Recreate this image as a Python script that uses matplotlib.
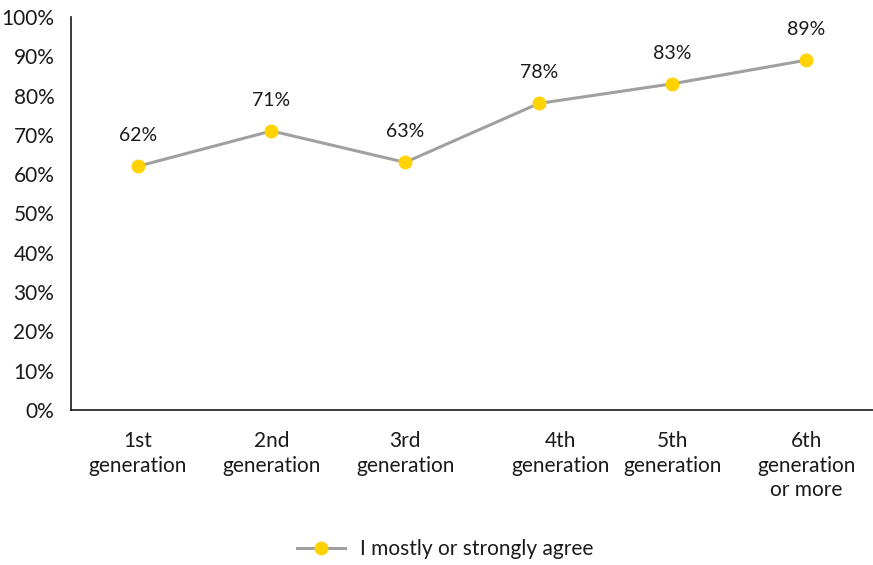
import matplotlib
matplotlib.use("Agg")
import matplotlib.pyplot as plt
import matplotlib.transforms as mtransforms

categories = ["1st\ngeneration", "2nd\ngeneration", "3rd\ngeneration",
              "4th\ngeneration", "5th\ngeneration", "6th\ngeneration\nor more"]
agree = [62, 71, 63, 78, 83, 89]
series_name = "I mostly or strongly agree"
yticks = [0, 10, 20, 30, 40, 50, 60, 70, 80, 90, 100]

plt.rcParams['font.family'] = ['Lato', 'DejaVu Sans']

fig = plt.figure(figsize=(8.73, 5.65), dpi=100)
ax = fig.add_axes([0.0813, 0.2743, 0.9187, 0.6957])

x = range(len(categories))
ax.plot(x, agree, color="#a0a0a0", lw=2.2, marker="o", markersize=9,
        markerfacecolor="#ffd200", markeredgecolor="#ffd200", label=series_name)

for xi, v in zip(x, agree):
    ax.annotate(f"{v}%", (xi, v), xytext=(0, 22), textcoords="offset points",
                ha="center", va="center", fontsize=14, color="#1a1a1a")

ax.set_xlim(-0.5, len(categories) - 0.5)
ax.set_ylim(0, 100)
ax.set_yticks(yticks)
ax.set_yticklabels([f"{t}%" for t in yticks], fontsize=15, color="#1a1a1a")
ax.set_xticks(list(x))
ax.set_xticklabels(categories, fontsize=15, color="#1a1a1a", linespacing=1.3)
ax.tick_params(axis="both", length=0)
ax.tick_params(axis="y", pad=12)
ax.tick_params(axis="x", pad=15)

# the 4th label sits a bit to the right in the original
lab = ax.get_xticklabels()[3]
lab.set_transform(lab.get_transform() + mtransforms.ScaledTranslation(0.22, 0, fig.dpi_scale_trans))

for s in ["top", "right"]:
    ax.spines[s].set_visible(False)
ax.spines["left"].set_color("#1a1a1a")
ax.spines["bottom"].set_color("#1a1a1a")
ax.spines["left"].set_linewidth(1.2)
ax.spines["bottom"].set_linewidth(1.2)

fig.legend(loc="center", bbox_to_anchor=(0.51, 0.028), frameon=False,
           fontsize=15, handlelength=2.3, handletextpad=0.7, labelcolor="#1a1a1a")

fig.savefig("out.png", dpi=100)
